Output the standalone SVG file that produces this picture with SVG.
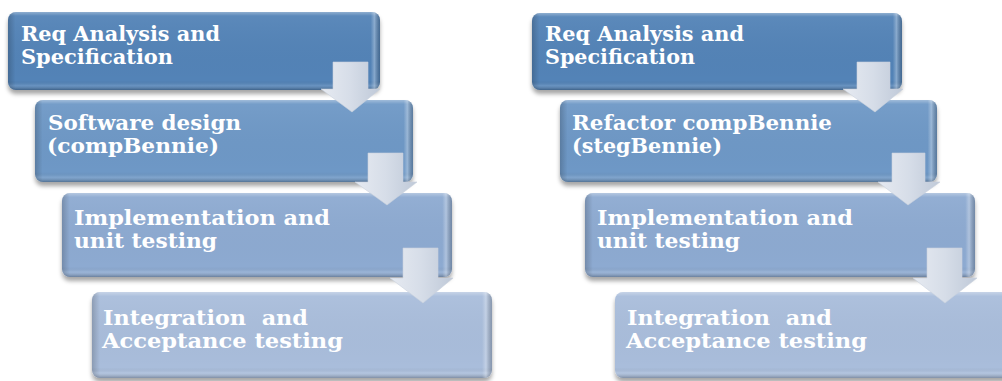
<svg xmlns="http://www.w3.org/2000/svg" width="1002" height="381" viewBox="0 0 1002 381">
<defs>
<filter id="sh" x="-5%" y="-10%" width="110%" height="130%">
<feDropShadow dx="0" dy="4" stdDeviation="2.2" flood-color="#000" flood-opacity="0.35"/>
</filter>
<linearGradient id="bevV" x1="0" y1="0" x2="0" y2="1">
<stop offset="0" stop-color="#fff" stop-opacity="0.35"/>
<stop offset="0.05" stop-color="#fff" stop-opacity="0.05"/>
<stop offset="0.88" stop-color="#000" stop-opacity="0"/>
<stop offset="0.94" stop-color="#fff" stop-opacity="0.12"/>
<stop offset="1" stop-color="#000" stop-opacity="0.25"/>
</linearGradient>
<linearGradient id="bevH" x1="0" y1="0" x2="1" y2="0">
<stop offset="0" stop-color="#000" stop-opacity="0.18"/>
<stop offset="0.02" stop-color="#000" stop-opacity="0"/>
<stop offset="0.975" stop-color="#fff" stop-opacity="0"/>
<stop offset="0.985" stop-color="#fff" stop-opacity="0.3"/>
<stop offset="1" stop-color="#000" stop-opacity="0.2"/>
</linearGradient>
<linearGradient id="arr" x1="0" y1="0" x2="1" y2="0">
<stop offset="0" stop-color="#e6eaf1"/>
<stop offset="0.5" stop-color="#d6dde8"/>
<stop offset="1" stop-color="#bfc9d8"/>
</linearGradient>
<style>
.b1{fill:#5383b7}
.b2{fill:#6e98c6}
.b3{fill:#8daad1}
.b4{fill:#a9bddb}
.bv{fill:url(#bevV)}
.bh{fill:url(#bevH)}
.t{font-family:"DejaVu Serif","Liberation Serif",serif;font-weight:bold;font-size:20px;fill:#ffffff;white-space:pre}
.a{fill:url(#arr);stroke:#c9d1dd;stroke-width:0.6}
</style>
</defs>

<!-- Left column -->
<g id="l1">
<rect class="b1" x="8" y="12" width="372" height="78" rx="8" filter="url(#sh)"/>
<rect class="bv" x="8" y="12" width="372" height="78" rx="8"/>
<rect class="bh" x="8" y="12" width="372" height="78" rx="8"/>
<text class="t" x="21" y="41" textLength="199" lengthAdjust="spacingAndGlyphs">Req Analysis and</text>
<text class="t" x="21" y="64" textLength="152" lengthAdjust="spacingAndGlyphs">Specification</text>
</g>
<g id="l2">
<rect class="b2" x="35" y="100" width="378" height="82" rx="8" filter="url(#sh)"/>
<rect class="bv" x="35" y="100" width="378" height="82" rx="8"/>
<rect class="bh" x="35" y="100" width="378" height="82" rx="8"/>
<text class="t" x="48" y="130" textLength="193" lengthAdjust="spacingAndGlyphs">Software design</text>
<text class="t" x="47" y="153" textLength="172" lengthAdjust="spacingAndGlyphs">(compBennie)</text>
</g>
<g id="l3">
<rect class="b3" x="62" y="193" width="390" height="84" rx="8" filter="url(#sh)"/>
<rect class="bv" x="62" y="193" width="390" height="84" rx="8"/>
<rect class="bh" x="62" y="193" width="390" height="84" rx="8"/>
<text class="t" x="74" y="225" textLength="256" lengthAdjust="spacingAndGlyphs">Implementation and</text>
<text class="t" x="74" y="248" textLength="143" lengthAdjust="spacingAndGlyphs">unit testing</text>
</g>
<g id="l4">
<rect class="b4" x="92" y="292" width="400" height="86" rx="8" filter="url(#sh)"/>
<rect class="bv" x="92" y="292" width="400" height="86" rx="8"/>
<rect class="bh" x="92" y="292" width="400" height="86" rx="8"/>
<text class="t" x="103" y="325" textLength="205" lengthAdjust="spacingAndGlyphs">Integration  and</text>
<text class="t" x="102" y="348" textLength="241" lengthAdjust="spacingAndGlyphs">Acceptance testing</text>
</g>

<!-- Right column -->
<g id="r1">
<rect class="b1" x="532" y="13" width="370" height="77" rx="8" filter="url(#sh)"/>
<rect class="bv" x="532" y="13" width="370" height="77" rx="8"/>
<rect class="bh" x="532" y="13" width="370" height="77" rx="8"/>
<text class="t" x="545" y="41" textLength="199" lengthAdjust="spacingAndGlyphs">Req Analysis and</text>
<text class="t" x="545" y="64" textLength="150" lengthAdjust="spacingAndGlyphs">Specification</text>
</g>
<g id="r2">
<rect class="b2" x="560" y="100" width="377" height="82" rx="8" filter="url(#sh)"/>
<rect class="bv" x="560" y="100" width="377" height="82" rx="8"/>
<rect class="bh" x="560" y="100" width="377" height="82" rx="8"/>
<text class="t" x="572" y="130" textLength="260" lengthAdjust="spacingAndGlyphs">Refactor compBennie</text>
<text class="t" x="572" y="153" textLength="150" lengthAdjust="spacingAndGlyphs">(stegBennie)</text>
</g>
<g id="r3">
<rect class="b3" x="585" y="193" width="390" height="84" rx="8" filter="url(#sh)"/>
<rect class="bv" x="585" y="193" width="390" height="84" rx="8"/>
<rect class="bh" x="585" y="193" width="390" height="84" rx="8"/>
<text class="t" x="597" y="225" textLength="256" lengthAdjust="spacingAndGlyphs">Implementation and</text>
<text class="t" x="597" y="248" textLength="143" lengthAdjust="spacingAndGlyphs">unit testing</text>
</g>
<g id="r4">
<rect class="b4" x="615" y="292" width="400" height="86" rx="8" filter="url(#sh)"/>
<rect class="bv" x="615" y="292" width="400" height="86" rx="8"/>
<text class="t" x="627" y="325" textLength="205" lengthAdjust="spacingAndGlyphs">Integration  and</text>
<text class="t" x="626" y="348" textLength="241" lengthAdjust="spacingAndGlyphs">Acceptance testing</text>
</g>

<!-- Connectors -->
<g id="connectors">
<path class="a" d="M333,62 H368 V89 H380 L352,112 L321,89 H333 Z"/>
<path class="a" d="M368,153 H403 V182 H417 L387,205 L355,182 H368 Z"/>
<path class="a" d="M403,248 H438 V278 H453 L423,303 L390,278 H403 Z"/>
<path class="a" d="M857,62 H890 V89 H903 L875,112 L843,89 H857 Z"/>
<path class="a" d="M892,153 H925 V182 H940 L908,205 L878,182 H892 Z"/>
<path class="a" d="M927,248 H962 V278 H977 L945,303 L913,278 H927 Z"/>
</g>
</svg>
